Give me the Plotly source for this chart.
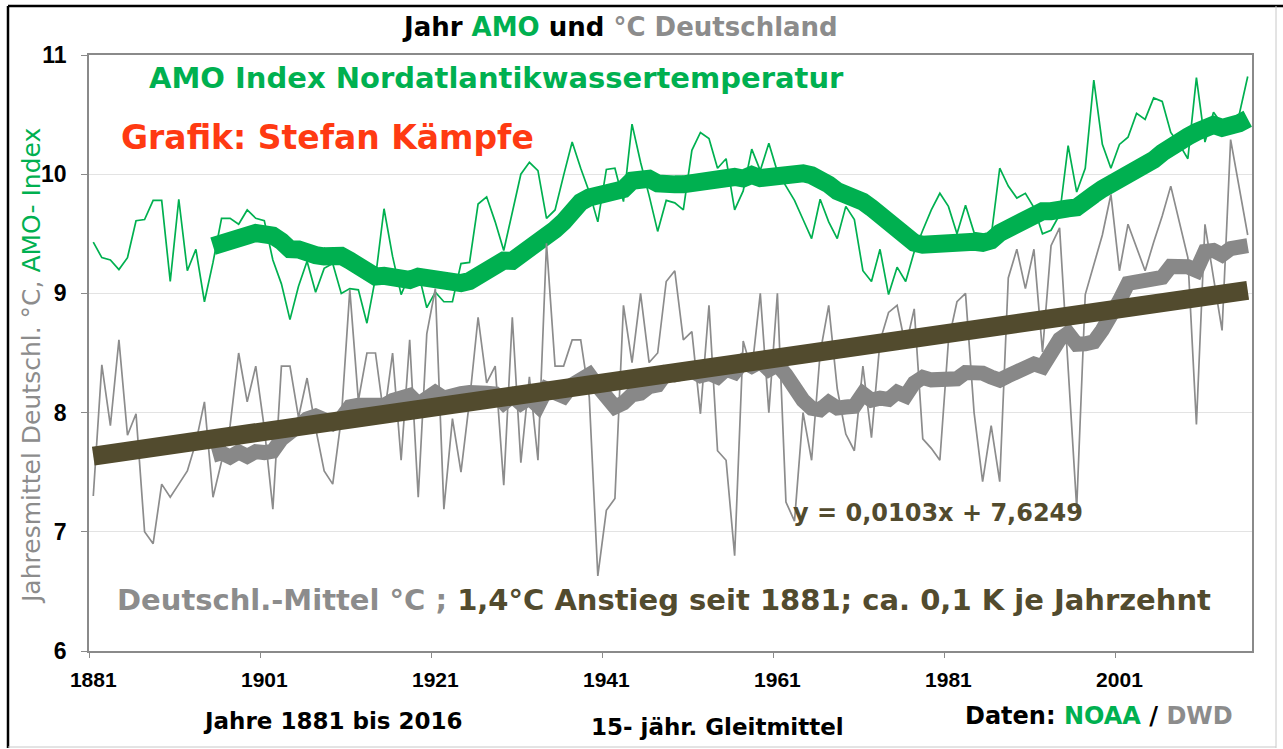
import pandas as pd
import plotly.graph_objects as go

# Jahre 1881 bis 2016
years = list(range(1881, 2017))

# AMO-Index (skaliert auf die Temperaturachse)
amo = [9.43, 9.30, 9.28, 9.20, 9.30, 9.61, 9.62, 9.78, 9.78, 9.10,
       9.79, 9.19, 9.37, 8.93, 9.26, 9.63, 9.63, 9.58, 9.70, 9.63,
       9.61, 9.28, 9.08, 8.78, 9.06, 9.27, 9.01, 9.21, 9.25, 9.00,
       9.04, 9.03, 8.75, 9.13, 9.71, 9.31, 8.99, 9.16, 9.18, 8.88,
       9.01, 8.93, 8.93, 9.25, 9.26, 9.75, 9.81, 9.60, 9.36, 9.68,
       10.00, 10.10, 10.03, 9.63, 9.70, 9.99, 10.27, 10.05, 9.85, 9.60,
       10.04, 10.05, 9.77, 10.42, 10.10, 9.82, 9.52, 9.78, 9.76, 9.70,
       10.20, 10.35, 10.30, 10.05, 10.13, 9.70, 9.86, 10.21, 10.03, 10.26,
       10.02, 9.90, 9.78, 9.62, 9.46, 9.79, 9.60, 9.46, 9.73, 9.62,
       9.19, 9.10, 9.37, 8.99, 9.22, 9.10, 9.35, 9.53, 9.70, 9.84,
       9.73, 9.50, 9.74, 9.51, 9.50, 9.48, 10.05, 9.90, 9.80, 9.84,
       9.72, 9.50, 9.53, 9.66, 10.24, 9.85, 10.05, 10.79, 10.25, 10.05,
       10.25, 10.31, 10.51, 10.46, 10.64, 10.61, 10.35, 10.25, 10.13, 10.81,
       10.27, 10.52, 10.42, 10.38, 10.50, 10.82]

# Jahresmittel Deutschland in °C
temp = [7.30, 8.40, 7.89, 8.61, 7.81, 7.99, 7.00, 6.90, 7.40, 7.29,
        7.40, 7.51, 7.75, 8.09, 7.29, 7.60, 7.89, 8.50, 8.09, 8.39,
        7.87, 7.19, 8.39, 8.39, 7.96, 8.29, 7.87, 7.51, 7.40, 7.95,
        9.03, 8.10, 8.50, 8.50, 7.96, 8.50, 7.60, 8.61, 7.29, 8.66,
        9.04, 7.19, 7.95, 7.50, 8.10, 8.80, 8.25, 8.39, 7.39, 8.80,
        7.58, 8.30, 7.60, 9.42, 8.39, 8.39, 8.61, 8.61, 8.13, 6.63,
        7.18, 7.28, 8.90, 8.42, 9.00, 8.42, 8.50, 9.10, 9.19, 8.61,
        8.68, 7.99, 8.90, 7.68, 7.60, 6.80, 8.60, 8.35, 9.00, 8.00,
        9.00, 7.25, 7.09, 8.00, 7.60, 8.50, 8.90, 8.20, 7.82, 7.68,
        8.39, 7.79, 8.60, 8.84, 8.90, 8.55, 8.87, 7.78, 7.70, 7.60,
        8.60, 8.93, 9.00, 8.00, 7.42, 7.89, 7.42, 9.13, 9.37, 9.04,
        9.37, 8.51, 9.40, 9.55, 8.36, 7.20, 8.99, 9.25, 9.49, 9.83,
        9.19, 9.58, 9.39, 9.19, 9.43, 9.65, 9.90, 9.60, 9.30, 7.90,
        9.58, 9.13, 8.69, 10.29, 9.89, 9.49]

# lineare Trendlinie laut Diagramm: y = 0,0103x + 7,6249 (x = 1..136)
TREND_SLOPE = 0.0103
TREND_INTERCEPT = 7.6249

x_ticks = [1881, 1901, 1921, 1941, 1961, 1981, 2001]
y_ticks = [6, 7, 8, 9, 10, 11]

GREEN = "#00B050"
GREY = "#8C8C8C"
OLIVE = "#524B2E"

amo_mean = pd.Series(amo).rolling(15).mean()
temp_mean = pd.Series(temp).rolling(15).mean()
trend_x = [years[0], years[-1]]
trend_y = [TREND_SLOPE * 1 + TREND_INTERCEPT, TREND_SLOPE * len(years) + TREND_INTERCEPT]

fig = go.Figure()
fig.add_trace(go.Scatter(x=years, y=amo, mode="lines",
                         line=dict(color=GREEN, width=1.7)))
fig.add_trace(go.Scatter(x=years, y=amo_mean, mode="lines",
                         line=dict(color=GREEN, width=18)))
fig.add_trace(go.Scatter(x=years, y=temp, mode="lines",
                         line=dict(color=GREY, width=1.7)))
fig.add_trace(go.Scatter(x=years, y=temp_mean, mode="lines",
                         line=dict(color="#888888", width=15)))
fig.add_trace(go.Scatter(x=trend_x, y=trend_y, mode="lines",
                         line=dict(color=OLIVE, width=19)))

# Pixel -> paper Koordinaten (Plotfläche 89..1252 x 55..651)
L, R, T, B = 89, 1252, 55, 651


def px(x):
    return (x - L) / (R - L)


def py(y):
    return (B - y) / (B - T)


WIDE = "DejaVu Sans"


def note(x, y, text, size, color="black", family=WIDE, angle=0):
    fig.add_annotation(x=px(x), y=py(y), xref="paper", yref="paper",
                       text=text, showarrow=False, xanchor="center", yanchor="middle",
                       textangle=angle, font=dict(family=family, size=size, color=color))


note(620, 27, "<b>Jahr <span style='color:%s'>AMO</span> und "
     "<span style='color:%s'>°C Deutschland</span></b>" % (GREEN, GREY), 26)
note(496, 78, "<b>AMO Index Nordatlantikwassertemperatur</b>", 29, GREEN)
note(327, 137, "<b>Grafik: Stefan Kämpfe</b>", 33, "#FF3A12")
note(938, 513, "<b>y = 0,0103x + 7,6249</b>", 24, OLIVE)
note(664, 600, "<b><span style='color:%s'>Deutschl.-Mittel °C ;</span> "
     "1,4°C Anstieg seit 1881; ca. 0,1 K je Jahrzehnt</b>" % GREY, 29, OLIVE)
note(332, 721, "<b>Jahre 1881 bis 2016</b>", 23)
note(717, 727, "<b>15- jähr. Gleitmittel</b>", 23)
note(1099, 716, "<b>Daten: <span style='color:%s'>NOAA</span> / "
     "<span style='color:%s'>DWD</span></b>" % (GREEN, GREY), 24)
note(31, 366, "Jahresmittel Deutschl. °C, <span style='color:%s'>AMO- Index</span>" % GREEN,
     25, GREY, angle=-90)

# Rahmen um das ganze Bild
fig.add_shape(type="line", xref="paper", yref="paper", x0=px(8), x1=px(8),
              y0=py(6), y1=py(748), line=dict(color="black", width=2.5))
fig.add_shape(type="line", xref="paper", yref="paper", x0=px(8), x1=px(1283),
              y0=py(6), y1=py(6), line=dict(color="black", width=2.5))
fig.add_shape(type="line", xref="paper", yref="paper", x0=px(1276), x1=px(1276),
              y0=py(6), y1=py(748), line=dict(color="#C8C8C8", width=1))
fig.add_shape(type="line", xref="paper", yref="paper", x0=px(8), x1=px(1276),
              y0=py(747), y1=py(747), line=dict(color="#C8C8C8", width=1))

fig.update_layout(
    width=1283, height=749,
    margin=dict(l=L, r=1283 - R, t=T, b=749 - B),
    paper_bgcolor="white", plot_bgcolor="white",
    showlegend=False,
)
fig.update_xaxes(
    range=[1880.5, 2016.5], tickmode="array", tickvals=x_ticks,
    ticktext=["<b>%d</b>" % v for v in x_ticks],
    ticks="outside", ticklen=5, tickcolor="rgba(0,0,0,0)",
    tickfont=dict(family="Liberation Sans", size=21, color="black"),
    ticklabelstandoff=4,
    showline=True, linecolor="#8A8A8A", linewidth=1.5, mirror=True,
    showgrid=False, zeroline=False,
    minor=dict(tickmode="array", tickvals=[v - 0.5 for v in x_ticks],
               ticks="outside", ticklen=5, tickcolor="#8A8A8A", showgrid=False),
)
fig.update_yaxes(
    range=[6, 11], tickmode="array", tickvals=y_ticks,
    ticktext=["<b>%d</b>" % v for v in y_ticks],
    ticks="outside", ticklen=6, tickcolor="#8A8A8A",
    tickfont=dict(family="Liberation Sans", size=23, color="black"),
    ticklabelstandoff=10,
    showline=True, linecolor="#8A8A8A", linewidth=1.5, mirror=True,
    showgrid=True, gridcolor="#E3E3E3", gridwidth=1, zeroline=False,
)

# Seitenrand des Browsers entfernen, damit die Pixel genau passen
fig.write_html("out.html", config={"displayModeBar": False},
               post_script="document.body.style.margin='0px';")
